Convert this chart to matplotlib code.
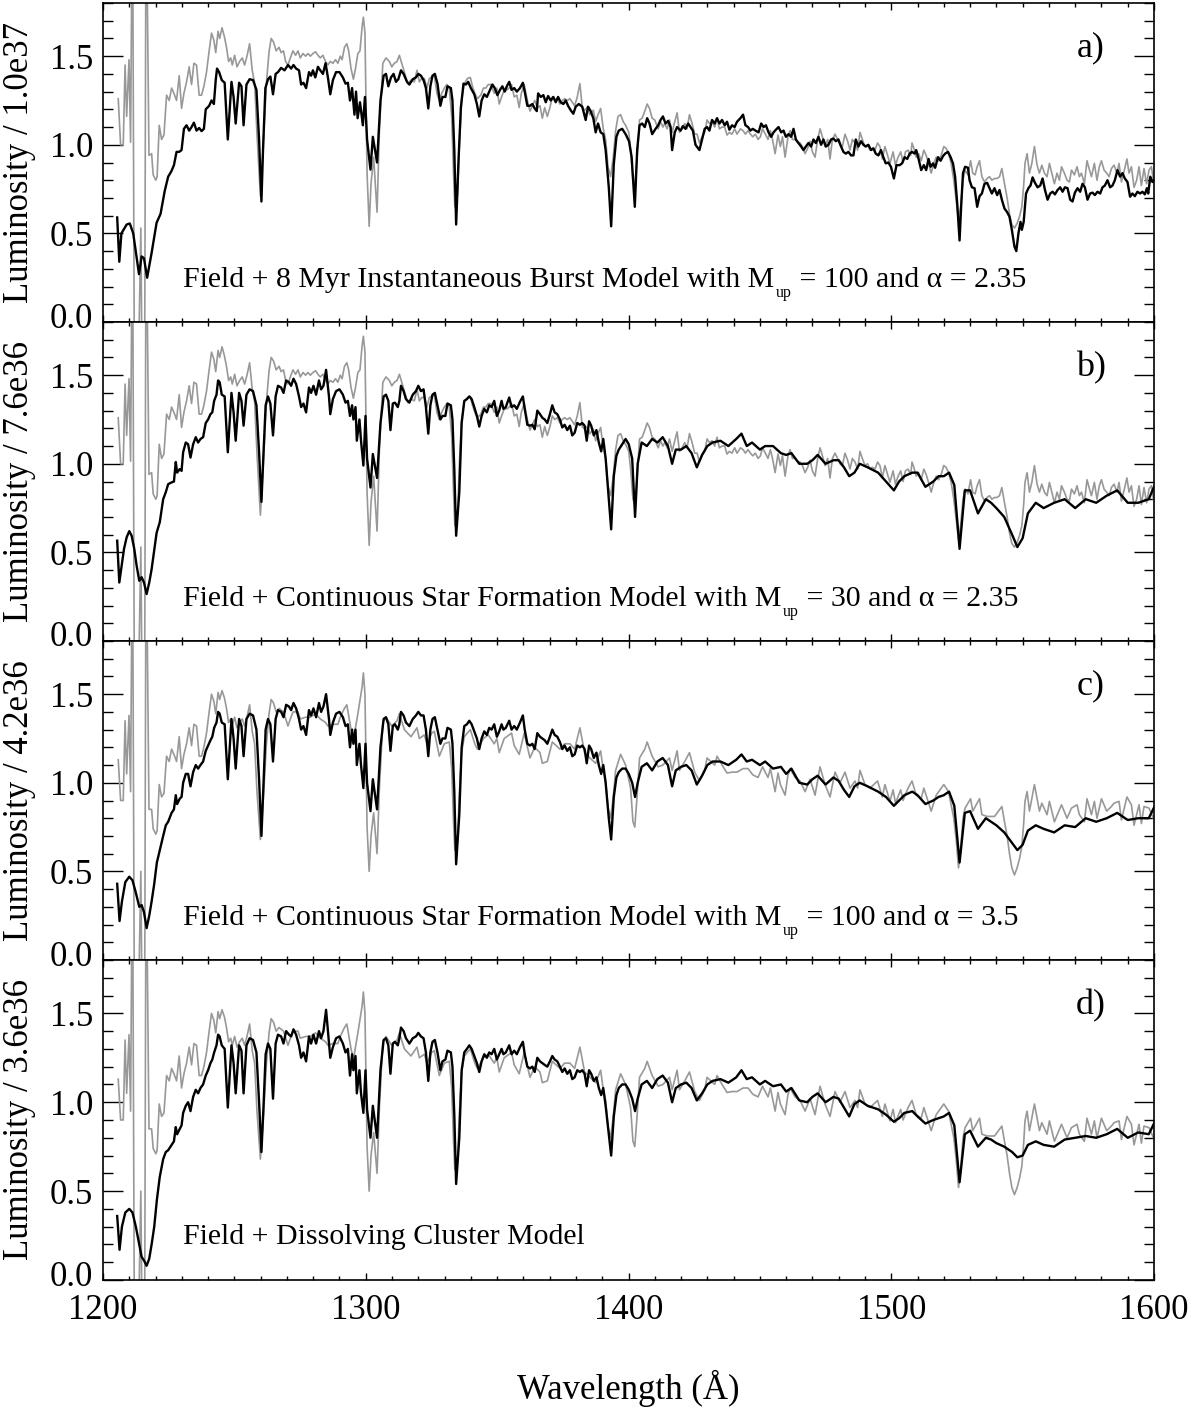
import matplotlib
matplotlib.use("Agg")
import matplotlib.pyplot as plt
from matplotlib.ticker import MultipleLocator
from matplotlib.transforms import ScaledTranslation

plt.rcParams['font.family'] = ['Liberation Serif', 'DejaVu Serif']

# ---------------- data ----------------
# Panel a, black
WL_A_BLK = [1205.4,1206.2,1207.0,1209.0,1210.2,1211.5,1213.7,1214.7,1215.6,1216.8,1218.5,1220.4,1221.9,1223.5,1224.8,1226.0,1227.0,1228.0,1229.0,1229.9,
 1230.8,1231.8,1232.8,1233.7,1234.6,1235.6,1236.6,1237.5,1238.4,1239.1,1240.4,1241.3,1242.2,1242.9,1243.4,1244.2,1245.2,1246.3,1247.5,1248.9,
 1249.7,1250.5,1251.8,1252.7,1253.5,1254.6,1255.8,1257.1,1258.4,1259.4,1260.3,1260.9,1261.8,1262.8,1263.7,1264.7,1265.7,1266.6,1267.8,1269.1,
 1270.4,1271.6,1272.5,1273.5,1274.6,1275.4,1276.3,1277.3,1278.4,1279.2,1279.9,1280.8,1281.8,1282.7,1283.7,1284.7,1285.6,1286.5,1287.5,1288.7,
 1290.0,1291.3,1292.3,1293.2,1294.0,1294.8,1295.7,1296.3,1296.9,1297.8,1298.9,1299.7,1300.5,1301.8,1302.7,1304.3,1305.6,1306.8,1307.7,1308.6,
 1309.6,1310.6,1311.5,1312.4,1313.4,1314.4,1315.7,1316.6,1317.9,1319.1,1320.0,1321.0,1322.0,1322.9,1323.8,1324.6,1325.4,1326.3,1327.3,1328.4,
 1329.2,1330.3,1331.1,1332.4,1333.0,1333.7,1334.4,1335.3,1336.2,1337.2,1338.1,1339.0,1340.0,1341.3,1342.3,1343.2,1344.1,1345.1,1346.1,1347.3,
 1348.2,1349.1,1350.1,1351.1,1352.0,1352.9,1353.7,1354.6,1355.5,1356.5,1357.5,1358.7,1359.8,1360.5,1361.5,1362.5,1363.4,1364.3,1365.1,1365.6,
 1366.6,1367.6,1368.5,1369.4,1370.4,1371.4,1372.3,1373.2,1374.2,1375.2,1376.1,1377.0,1378.0,1379.0,1379.9,1381.1,1382.4,1383.7,1384.6,1385.6,
 1386.6,1387.5,1388.4,1389.4,1390.4,1391.3,1392.5,1393.4,1394.4,1395.4,1396.3,1397.6,1398.9,1400.2,1401.2,1402.4,1403.3,1404.2,1405.2,1406.2,
 1407.1,1408.0,1409.0,1410.3,1411.3,1412.2,1413.1,1414.1,1415.1,1416.0,1416.6,1417.6,1418.5,1419.8,1420.7,1421.7,1422.7,1423.6,1424.5,1425.5,
 1427.0,1428.0,1429.0,1429.9,1430.8,1431.8,1432.8,1433.7,1434.6,1435.6,1436.6,1437.5,1438.4,1439.4,1440.4,1441.3,1442.6,1443.6,1444.5,1445.5,
 1446.4,1447.3,1448.3,1449.5,1450.5,1451.4,1452.3,1453.3,1454.3,1455.2,1456.1,1457.1,1458.1,1459.0,1459.9,1460.9,1461.9,1462.8,1463.7,1464.7,
 1465.7,1466.6,1467.5,1468.5,1469.5,1470.4,1471.3,1472.3,1473.3,1474.2,1475.1,1476.1,1477.1,1478.0,1478.9,1479.9,1480.9,1481.8,1482.7,1483.7,
 1484.7,1485.6,1486.5,1487.5,1488.5,1489.4,1490.3,1491.3,1492.3,1493.2,1494.1,1495.1,1496.1,1497.0,1497.9,1498.9,1499.9,1501.0,1502.0,1503.2,
 1504.1,1505.1,1506.1,1507.0,1507.9,1508.9,1509.5,1510.4,1511.4,1512.4,1513.3,1514.2,1515.0,1515.9,1516.7,1517.8,1518.8,1519.7,1520.5,1521.6,
 1522.6,1523.5,1524.3,1525.1,1526.0,1526.6,1527.3,1528.1,1529.2,1529.8,1530.7,1531.7,1532.7,1533.6,1534.5,1535.5,1536.5,1537.4,1538.3,1539.3,
 1540.3,1541.2,1542.1,1543.1,1544.1,1545.0,1545.9,1546.9,1547.6,1548.4,1549.2,1549.7,1550.4,1551.3,1552.2,1553.0,1553.8,1554.7,1555.7,1556.7,
 1557.6,1558.5,1559.5,1560.5,1561.4,1562.3,1563.3,1564.3,1565.2,1566.1,1567.1,1568.1,1569.0,1569.9,1570.9,1571.9,1572.8,1573.7,1574.7,1575.7,
 1576.6,1577.5,1578.5,1579.5,1580.4,1581.3,1582.3,1583.3,1584.2,1585.1,1586.1,1587.1,1588.0,1588.9,1589.9,1590.9,1591.8,1592.7,1593.7,1594.7,
 1595.6,1596.5,1597.3,1597.8,1598.6,1599.4,1600.0]
LUM_A_BLK = [.59,.34,.50,.55,.556,.50,.27,.37,.36,.25,.39,.56,.61,.74,.82,.85,.885,.96,.96,.97,
 1.09,1.11,1.08,1.10,1.125,1.08,1.095,1.077,1.09,1.20,1.22,1.25,1.23,1.365,1.43,1.41,1.365,1.35,1.03,1.355,
 1.27,1.12,1.35,1.33,1.11,1.34,1.37,1.365,1.31,1.03,.68,.97,1.32,1.37,1.385,1.285,1.40,1.41,1.434,1.42,
 1.45,1.43,1.45,1.43,1.42,1.34,1.35,1.32,1.41,1.39,1.42,1.38,1.44,1.42,1.40,1.46,1.38,1.285,1.365,1.41,
 1.41,1.38,1.345,1.35,1.25,1.32,1.17,1.30,1.15,1.24,1.11,1.27,1.03,.86,1.045,.90,1.25,1.39,1.40,1.33,
 1.38,1.40,1.355,1.37,1.42,1.40,1.355,1.34,1.37,1.38,1.40,1.39,1.365,1.32,1.205,1.33,1.39,1.40,1.345,1.22,
 1.27,1.27,1.33,1.32,1.25,.97,.55,.91,1.21,1.345,1.34,1.355,1.32,1.285,1.23,1.16,1.25,1.285,1.27,1.31,
 1.34,1.32,1.28,1.31,1.33,1.30,1.33,1.355,1.31,1.32,1.30,1.32,1.35,1.30,1.22,1.22,1.23,1.205,1.19,1.29,
 1.27,1.28,1.24,1.275,1.25,1.27,1.24,1.27,1.24,1.23,1.25,1.22,1.195,1.175,1.215,1.23,1.215,1.14,1.215,1.19,
 1.15,1.07,1.12,1.07,1.06,.97,.76,.54,.89,1.045,1.08,1.09,1.06,1.02,.93,.65,.97,1.11,1.12,1.10,
 1.15,1.12,1.06,1.09,1.11,1.14,1.16,1.12,1.135,1.10,.97,1.07,1.10,1.08,1.105,1.09,1.12,1.10,1.08,1.00,
 .97,1.03,1.09,1.10,1.08,1.14,1.12,1.15,1.12,1.14,1.11,1.13,1.085,1.11,1.10,1.13,1.15,1.17,1.11,1.10,
 1.08,1.09,1.08,1.07,1.12,1.10,1.11,1.07,1.045,1.07,1.085,1.10,1.07,1.08,1.045,1.06,1.045,1.09,1.03,1.01,
 .99,.97,.99,1.01,.99,1.03,1.01,1.045,1.00,1.03,.99,1.00,1.03,1.035,1.02,1.03,.99,.96,.95,.96,
 .94,.94,1.03,.99,1.02,1.00,.99,1.00,.97,.98,.95,.94,.97,.93,.895,.90,.875,.81,.885,.885,
 .895,.93,.92,.95,.96,.95,.97,.92,.857,.885,.857,.92,.876,.895,.87,.93,.91,.936,.95,.96,
 .93,.895,.82,.67,.46,.65,.84,.876,.87,.80,.76,.755,.65,.71,.725,.78,.785,.755,.725,.755,
 .716,.745,.69,.64,.62,.594,.52,.425,.40,.50,.565,.52,.565,.725,.755,.77,.816,.785,.76,.77,
 .81,.745,.69,.725,.735,.72,.745,.76,.735,.76,.755,.69,.68,.73,.755,.735,.78,.76,.69,.725,
 .73,.716,.735,.725,.76,.77,.80,.76,.77,.80,.857,.82,.84,.81,.79,.707,.725,.71,.735,.725,
 .735,.72,.755,.725,.82,.79,.80]

# Panel a, grey
WL_A_GRY = [1205.8,1206.7,1207.7,1208.4,1209.0,1209.9,1210.5,1211.2,1212.0,1213.2,1214.4,1215.0,1215.8,1216.4,1217.5,1218.5,1219.1,1220.1,1220.6,1221.4,
 1222.3,1223.2,1224.2,1225.2,1226.1,1227.0,1228.0,1229.0,1229.9,1230.8,1231.8,1232.8,1233.7,1234.6,1235.6,1236.6,1237.5,1238.4,1239.4,1240.4,
 1241.3,1242.2,1242.9,1243.8,1244.4,1245.3,1246.2,1247.0,1247.8,1248.6,1249.2,1250.1,1251.0,1252.0,1253.0,1253.9,1254.8,1255.8,1256.8,1257.7,
 1258.6,1259.9,1260.9,1262.2,1263.2,1264.0,1264.9,1265.9,1267.0,1267.8,1268.7,1269.5,1270.4,1271.3,1272.3,1273.3,1274.2,1275.1,1276.1,1277.1,
 1278.0,1278.9,1279.9,1280.9,1281.8,1282.7,1283.7,1284.7,1285.6,1286.5,1287.5,1288.5,1289.4,1290.3,1291.0,1291.9,1292.8,1293.5,1294.4,1295.3,
 1296.1,1297.0,1297.8,1298.6,1299.1,1299.7,1300.5,1301.3,1302.0,1303.0,1304.3,1305.2,1306.5,1307.7,1309.0,1309.9,1310.9,1311.9,1312.8,1313.7,
 1314.7,1316.0,1317.2,1318.5,1319.5,1320.4,1321.3,1322.3,1323.3,1324.2,1325.1,1326.1,1327.1,1328.0,1328.9,1329.9,1330.9,1331.8,1332.7,1333.4,
 1333.9,1335.0,1335.6,1336.5,1337.5,1338.7,1339.8,1340.6,1341.5,1342.5,1343.8,1344.8,1345.7,1346.6,1347.6,1348.9,1349.9,1350.8,1351.7,1352.7,
 1353.7,1354.6,1355.5,1356.5,1357.5,1358.4,1359.2,1360.3,1361.5,1362.5,1363.4,1364.3,1365.3,1366.3,1367.2,1368.1,1369.1,1370.1,1371.0,1371.9,
 1372.9,1373.9,1374.8,1375.7,1376.7,1377.7,1378.6,1379.5,1380.5,1381.5,1382.4,1383.3,1384.3,1385.3,1386.6,1387.5,1388.4,1389.4,1390.4,1391.3,
 1392.2,1393.2,1394.2,1395.1,1396.0,1397.0,1398.0,1398.9,1400.1,1400.8,1401.7,1402.4,1403.3,1404.2,1405.2,1406.2,1407.1,1408.0,1409.0,1410.0,
 1411.3,1412.2,1413.1,1413.8,1414.7,1415.6,1416.6,1417.6,1418.5,1419.4,1420.4,1421.4,1422.3,1423.2,1424.2,1425.2,1426.1,1427.0,1428.0,1429.0,
 1429.9,1430.8,1431.8,1432.8,1433.7,1434.6,1435.6,1436.6,1437.5,1438.4,1439.4,1440.4,1441.3,1442.6,1443.6,1444.5,1445.5,1446.4,1447.3,1448.3,
 1449.3,1450.2,1451.0,1452.1,1453.1,1454.0,1454.8,1455.8,1456.9,1457.8,1458.6,1459.6,1460.7,1461.5,1462.4,1463.4,1464.5,1465.3,1466.2,1467.2,
 1468.2,1469.1,1470.0,1471.0,1472.0,1472.9,1473.8,1474.8,1475.8,1476.7,1477.6,1478.6,1479.6,1480.5,1481.4,1482.4,1483.4,1484.3,1485.2,1486.2,
 1487.2,1488.1,1489.0,1490.0,1491.0,1491.9,1492.8,1493.8,1494.8,1495.7,1496.6,1497.6,1498.6,1499.5,1500.7,1501.6,1502.6,1503.6,1504.5,1505.4,
 1506.4,1507.4,1507.9,1508.6,1509.5,1510.4,1511.4,1512.4,1513.3,1514.2,1515.2,1516.2,1517.1,1518.0,1519.0,1520.0,1520.9,1521.8,1522.8,1523.8,
 1524.7,1525.6,1526.4,1527.3,1528.1,1529.2,1530.2,1531.0,1531.9,1532.7,1533.6,1534.5,1535.5,1536.5,1537.4,1538.3,1539.3,1540.3,1541.2,1542.1,
 1543.1,1544.1,1545.0,1545.9,1546.9,1547.9,1548.8,1549.7,1550.4,1550.9,1551.7,1552.6,1553.5,1554.5,1555.5,1556.4,1557.3,1558.3,1559.3,1560.2,
 1561.1,1562.1,1563.1,1564.0,1564.8,1565.9,1566.9,1567.8,1568.6,1569.7,1570.7,1571.6,1572.4,1573.5,1574.5,1575.3,1576.2,1577.3,1578.3,1579.2,
 1580.0,1581.0,1582.0,1582.9,1583.8,1584.8,1585.9,1586.7,1587.6,1588.6,1589.7,1590.5,1591.4,1592.4,1593.4,1594.3,1595.2,1596.2,1597.2,1598.1,
 1599.0,1599.8]
LUM_A_GRY = [1.26,1.00,1.00,1.45,1.16,1.48,1.015,2.5,-0.5,-0.5,0.53,-0.5,-0.5,2.5,.94,.95,.83,.80,.82,1.11,
 1.03,1.055,1.28,1.25,1.32,1.29,1.25,1.39,1.205,1.29,1.355,1.44,1.34,1.46,1.45,1.28,1.28,1.33,1.41,1.53,
 1.63,1.59,1.52,1.64,1.60,1.66,1.61,1.55,1.47,1.49,1.45,1.505,1.44,1.47,1.49,1.45,1.50,1.57,1.42,1.35,
 1.06,.71,.97,1.35,1.525,1.60,1.58,1.53,1.55,1.52,1.53,1.47,1.45,1.49,1.53,1.505,1.53,1.49,1.515,1.50,
 1.515,1.50,1.515,1.525,1.505,1.49,1.505,1.47,1.45,1.47,1.46,1.48,1.46,1.50,1.48,1.55,1.57,1.53,1.43,1.37,
 1.43,1.515,1.53,1.665,1.72,1.63,.84,.54,.78,.93,.62,1.08,1.46,1.49,1.47,1.44,1.46,1.47,1.505,1.46,
 1.41,1.345,1.365,1.355,1.42,1.355,1.374,1.374,1.32,1.374,1.383,1.39,1.29,1.25,1.29,1.32,1.34,1.32,1.16,.84,
 .65,.725,.99,1.25,1.345,1.374,1.38,1.33,1.29,1.26,1.28,1.32,1.32,1.34,1.34,1.29,1.32,1.23,1.27,1.31,
 1.31,1.32,1.34,1.27,1.28,1.21,1.29,1.34,1.25,1.19,1.22,1.25,1.21,1.22,1.15,1.21,1.16,1.21,1.27,1.25,
 1.26,1.23,1.25,1.26,1.25,1.26,1.24,1.22,1.27,1.345,1.21,1.195,1.21,1.17,1.195,1.13,1.17,1.205,1.09,1.03,
 .876,.82,.93,1.08,1.16,1.17,1.13,1.11,1.07,.97,.80,.77,.93,1.14,1.15,1.19,1.23,1.205,1.15,1.14,
 1.09,1.13,1.10,1.12,1.09,1.14,1.07,1.13,1.18,1.07,1.09,1.12,1.09,1.17,1.12,1.06,1.06,1.01,1.045,1.07,
 1.14,1.12,1.13,1.10,1.15,1.09,1.10,1.10,1.055,1.07,1.06,1.09,1.06,1.09,1.08,1.06,1.08,1.06,1.045,1.06,
 1.03,1.045,1.09,1.06,1.03,1.08,1.03,.95,1.055,.99,1.045,.93,1.045,1.08,1.03,1.03,1.01,1.01,.99,.95,
 .98,1.02,.96,.93,1.03,1.09,1.045,.99,1.03,.92,1.03,1.06,1.03,1.00,.99,1.06,1.02,.97,1.03,1.01,
 .97,1.07,1.03,.99,1.00,.97,.98,.97,1.01,.99,.92,.99,.94,.895,.96,.885,.93,.96,.90,.96,
 .97,.94,1.01,.98,.93,.95,.91,.97,.94,.895,.84,.895,.93,.91,.94,.99,.98,.95,.895,.80,
 .69,.575,.65,.80,.857,.83,.91,.84,.83,.876,.91,.82,.79,.81,.82,.80,.81,.81,.82,.866,
 .78,.70,.61,.55,.53,.556,.594,.65,.77,.895,.95,.84,.895,.99,.885,.84,.885,.84,.82,.895,
 .84,.78,.84,.80,.876,.84,.80,.79,.857,.83,.876,.82,.84,.78,.91,.866,.82,.895,.80,.876,
 .91,.857,.84,.82,.866,.885,.84,.895,.79,.85,.92,.84,.876,.76,.80,.876,.77,.866,.78,.857,
 .876,.80]

# Panel b, black
WL_B_BLK = [1205.4,1206.2,1207.1,1208.0,1209.0,1210.0,1210.9,1211.9,1212.8,1213.8,1214.7,1215.6,1216.6,1217.6,1218.5,1219.4,1220.4,1221.6,1222.9,1223.9,
 1224.8,1226.1,1227.0,1227.7,1228.2,1229.2,1229.9,1230.5,1231.5,1232.4,1233.3,1234.3,1235.3,1236.2,1237.1,1238.1,1239.1,1240.0,1240.9,1241.6,
 1242.3,1243.2,1243.8,1244.4,1245.2,1246.3,1247.5,1248.9,1249.7,1250.5,1251.8,1252.7,1253.5,1254.6,1255.8,1257.1,1258.4,1259.4,1260.3,1261.1,
 1261.9,1262.8,1263.7,1264.7,1265.7,1266.6,1267.8,1268.7,1269.7,1270.8,1271.6,1272.5,1273.5,1274.6,1275.4,1276.3,1277.3,1278.4,1279.2,1280.1,
 1281.1,1282.2,1283.0,1283.9,1284.9,1286.0,1286.5,1287.5,1288.7,1290.0,1291.3,1292.3,1293.2,1294.0,1294.8,1295.3,1296.1,1296.6,1297.6,1298.2,
 1299.1,1299.9,1300.5,1301.8,1302.7,1304.3,1305.6,1306.8,1307.7,1308.6,1309.4,1310.3,1311.1,1312.2,1312.8,1313.4,1314.4,1315.3,1316.6,1317.9,
 1319.1,1320.0,1321.0,1322.0,1322.9,1323.8,1324.6,1325.4,1326.3,1327.3,1328.4,1329.2,1330.3,1331.1,1332.4,1333.0,1333.7,1334.4,1335.6,1336.5,
 1337.5,1338.5,1339.4,1340.3,1341.3,1342.3,1343.2,1344.1,1345.1,1346.1,1347.0,1347.9,1348.9,1349.9,1350.8,1351.7,1352.4,1353.3,1354.6,1355.5,
 1356.5,1357.5,1358.7,1359.8,1360.5,1361.5,1362.5,1363.4,1364.3,1365.3,1366.3,1367.2,1368.1,1369.1,1370.1,1371.0,1371.9,1372.9,1373.9,1374.8,
 1375.7,1376.7,1377.7,1378.6,1379.5,1380.5,1381.5,1382.4,1383.3,1384.1,1385.0,1385.8,1386.8,1387.8,1388.7,1389.6,1390.4,1391.3,1392.5,1393.4,
 1394.4,1395.4,1396.3,1397.6,1398.9,1400.1,1401.4,1402.5,1403.5,1405,1407,1409,1411,1413,1415,1416.6,1418,1420,1422,1424,
 1426,1428,1430,1432,1435,1438,1441,1443,1445,1447,1450,1452,1455,1458,1460,1462,1465,1468,1470,1472,
 1475,1478,1480,1482,1484,1486,1488,1491,1495,1498,1501,1503,1505,1508,1510,1513,1516,1518,1520,1522,
 1524,1526,1528,1530,1533,1536,1538,1540,1543,1546,1548,1550,1552,1555,1558,1562,1566,1570,1574,1578,
 1582,1586,1590,1594,1598,1600]
LUM_B_BLK = [.566,.33,.425,.52,.585,.62,.594,.52,.425,.34,.36,.33,.265,.33,.405,.50,.61,.67,.80,.84,
 .885,.895,.90,1.01,.95,.97,.96,1.065,1.12,1.11,1.035,1.11,1.15,1.12,1.14,1.15,1.23,1.25,1.28,1.29,
 1.355,1.39,1.47,1.46,1.39,1.38,1.065,1.40,1.29,1.13,1.40,1.355,1.215,1.39,1.42,1.41,1.33,1.065,.785,1.065,
 1.33,1.38,1.34,1.16,1.38,1.44,1.43,1.40,1.47,1.46,1.44,1.48,1.45,1.38,1.32,1.34,1.29,1.43,1.40,1.44,
 1.39,1.47,1.42,1.44,1.53,1.38,1.28,1.365,1.41,1.42,1.39,1.345,1.355,1.27,1.33,1.25,1.32,1.13,1.25,1.13,
 .99,1.27,1.03,.866,1.055,.92,1.23,1.38,1.39,1.355,1.19,1.34,1.345,1.32,1.355,1.44,1.41,1.365,1.345,1.39,
 1.41,1.44,1.41,1.42,1.32,1.17,1.33,1.39,1.40,1.33,1.25,1.27,1.27,1.34,1.33,1.25,.97,.594,.84,1.23,
 1.355,1.365,1.38,1.365,1.32,1.27,1.21,1.27,1.31,1.29,1.33,1.32,1.355,1.27,1.30,1.355,1.31,1.32,1.374,1.32,
 1.33,1.31,1.35,1.38,1.31,1.22,1.215,1.22,1.195,1.30,1.28,1.26,1.25,1.23,1.28,1.33,1.29,1.28,1.25,1.205,
 1.22,1.19,1.215,1.16,1.175,1.23,1.22,1.23,1.215,1.13,1.24,1.215,1.16,1.19,1.12,1.07,1.14,1.03,.80,.63,
 .93,1.045,1.08,1.11,1.14,1.11,1.03,.70,1.0,1.12,1.10,1.14,1.12,1.15,1.10,1.0,1.08,1.08,1.10,1.06,
 .98,1.05,1.10,1.12,1.13,1.10,1.14,1.17,1.10,1.12,1.08,1.10,1.10,1.06,1.05,1.06,1.00,1.00,1.02,1.05,
 1.00,1.02,1.02,.98,.93,.95,1.00,.98,.95,.90,.85,.90,.93,.95,.95,.87,.90,.93,.93,.95,
 .88,.52,.85,.85,.72,.80,.78,.75,.70,.60,.53,.58,.72,.78,.75,.78,.80,.75,.80,.78,
 .82,.85,.78,.78,.80,.87]

# Panel b, grey (coincides with the panel a grey trace in the picture)
WL_B_GRY = list(WL_A_GRY)
LUM_B_GRY = list(LUM_A_GRY)

# Panels c and d, black (shared wavelength samples)
WL_CD_BLK = [1205.4,1206.3,1207.2,1208.5,1210.0,1211.2,1212.5,1213.8,1214.7,1215.6,
 1216.6,1217.6,1218.5,1219.5,1220.5,1221.6,1222.9,1223.9,1224.8,1226.1,
 1227.0,1227.7,1228.2,1229.2,1229.9,1230.5,1231.5,1232.4,1233.3,1234.3,
 1235.3,1236.2,1237.1,1238.1,1239.1,1240.0,1240.9,1241.6,1242.3,1243.2,
 1243.8,1244.4,1245.2,1246.3,1247.5,1248.9,1249.7,1250.5,1251.8,1252.7,
 1253.5,1254.6,1255.8,1257.1,1258.4,1259.4,1260.3,1261.1,1261.9,1262.8,
 1263.7,1264.7,1265.7,1266.6,1267.8,1268.7,1269.7,1270.8,1271.6,1272.5,
 1273.5,1274.6,1275.4,1276.3,1277.3,1278.4,1279.2,1280.1,1281.1,1282.2,
 1283.0,1283.9,1284.9,1286.0,1286.5,1287.5,1288.7,1290.0,1291.3,1292.3,
 1293.2,1294.0,1294.8,1295.3,1296.1,1296.6,1297.6,1298.2,1299.1,1299.9,
 1300.5,1301.8,1302.7,1304.3,1305.6,1306.8,1307.7,1308.6,1309.4,1310.3,
 1311.1,1312.2,1312.8,1313.4,1314.4,1315.3,1316.6,1317.9,1319.1,1320.0,
 1321.0,1322.0,1322.9,1323.8,1324.6,1325.4,1326.3,1327.3,1328.4,1329.2,
 1330.3,1331.1,1332.4,1333.0,1333.7,1334.4,1335.6,1336.5,1337.5,1338.5,
 1339.4,1340.3,1341.3,1342.3,1343.2,1344.1,1345.1,1346.1,1347.0,1347.9,
 1348.9,1349.9,1350.8,1351.7,1352.4,1353.3,1354.6,1355.5,1356.5,1357.5,
 1358.7,1359.8,1360.5,1361.5,1362.5,1363.4,1364.3,1365.3,1366.3,1367.2,
 1368.1,1369.1,1370.1,1371.0,1371.9,1372.9,1373.9,1374.8,1375.7,1376.7,
 1377.7,1378.6,1379.5,1380.5,1381.5,1382.4,1383.3,1384.1,1385.0,1385.8,
 1386.8,1387.8,1388.7,1389.6,1390.4,1391.3,1392.5,1393.4,1394.4,1395.4,
 1396.3,1397.6,1398.9,1400.1,1401.4,1402.5,1403.5,1405,1407,1409,
 1411,1413,1415,1416.6,1418,1420,1422,1424,1426,1428,
 1430,1432,1435,1438,1441,1443,1445,1447,1450,1452,
 1455,1458,1460,1462,1465,1468,1470,1472,1475,1478,
 1480,1482,1484,1486,1488,1491,1495,1498,1501,1503,
 1505,1508,1510,1513,1516,1518,1520,1522,1524,1526,
 1528,1530,1533,1536,1538,1540,1543,1546,1548,1550,
 1552,1555,1558,1562,1566,1570,1574,1578,1582,1586,
 1590,1594,1598,1600]
LUM_C_BLK = [.43,.22,.33,.44,.47,.45,.38,.30,.31,.27,
 .18,.25,.33,.43,.55,.62,.70,.76,.78,.83,
 .85,.93,.88,.91,.92,1.00,1.05,1.05,.98,1.06,
 1.10,1.08,1.10,1.12,1.18,1.21,1.24,1.26,1.31,1.34,
 1.40,1.39,1.34,1.33,1.02,1.36,1.25,1.08,1.36,1.32,
 1.15,1.36,1.39,1.38,1.30,1.02,.70,1.00,1.30,1.36,
 1.33,1.12,1.36,1.41,1.40,1.37,1.44,1.43,1.41,1.45,
 1.42,1.36,1.30,1.32,1.27,1.41,1.38,1.42,1.37,1.45,
 1.40,1.43,1.50,1.36,1.27,1.34,1.39,1.40,1.37,1.32,
 1.33,1.20,1.30,1.22,1.30,1.10,1.22,1.10,.97,1.22,
 1.00,.84,1.02,.85,1.20,1.36,1.37,1.33,1.18,1.32,
 1.33,1.30,1.33,1.40,1.38,1.34,1.32,1.36,1.38,1.40,
 1.38,1.38,1.30,1.15,1.30,1.36,1.37,1.30,1.22,1.25,
 1.25,1.31,1.30,1.22,.95,.54,.82,1.20,1.32,1.33,
 1.35,1.33,1.29,1.25,1.19,1.25,1.29,1.27,1.31,1.30,
 1.33,1.26,1.29,1.33,1.30,1.31,1.35,1.30,1.32,1.30,
 1.34,1.38,1.30,1.22,1.21,1.22,1.19,1.28,1.26,1.25,
 1.24,1.22,1.26,1.30,1.27,1.26,1.23,1.19,1.21,1.18,
 1.20,1.15,1.16,1.21,1.20,1.21,1.19,1.11,1.21,1.19,
 1.14,1.17,1.10,1.05,1.10,1.00,.80,.68,.92,1.03,
 1.06,1.08,1.08,1.05,1.00,.92,1.00,1.09,1.11,1.07,
 1.12,1.14,1.10,.98,1.07,1.09,1.10,1.07,.99,1.04,
 1.10,1.12,1.12,1.10,1.13,1.16,1.12,1.13,1.10,1.12,
 1.08,1.09,1.05,1.08,1.00,.99,1.02,1.04,.99,1.03,
 1.01,.96,.92,.98,1.00,.98,.95,.92,.87,.90,
 .93,.95,.93,.88,.90,.92,.93,.95,.87,.55,
 .83,.84,.74,.80,.78,.76,.72,.66,.62,.65,
 .73,.76,.74,.72,.76,.75,.80,.78,.80,.83,
 .79,.80,.80,.86]
LUM_D_BLK = [.36,.17,.30,.38,.40,.38,.30,.20,.13,.11,
 .08,.12,.20,.30,.45,.58,.68,.72,.73,.76,
 .78,.86,.82,.85,.87,.94,.98,1.00,.95,1.03,
 1.07,1.05,1.08,1.10,1.15,1.18,1.22,1.24,1.28,1.32,
 1.38,1.37,1.32,1.30,.97,1.32,1.22,1.05,1.32,1.29,
 1.05,1.32,1.36,1.35,1.28,1.00,.72,.98,1.27,1.33,
 1.30,1.02,1.33,1.38,1.37,1.33,1.40,1.38,1.37,1.41,
 1.38,1.32,1.25,1.28,1.23,1.37,1.33,1.38,1.33,1.40,
 1.36,1.40,1.52,1.33,1.25,1.31,1.36,1.37,1.33,1.28,
 1.30,1.15,1.27,1.18,1.26,1.05,1.18,1.05,.94,1.18,
 .96,.80,.98,.80,1.18,1.35,1.36,1.32,1.16,1.33,
 1.34,1.32,1.36,1.42,1.40,1.36,1.33,1.36,1.37,1.39,
 1.37,1.36,1.28,1.12,1.28,1.34,1.35,1.28,1.18,1.23,
 1.24,1.29,1.28,1.20,.93,.54,.80,1.18,1.28,1.30,
 1.32,1.30,1.26,1.22,1.17,1.23,1.27,1.25,1.28,1.27,
 1.30,1.24,1.27,1.30,1.27,1.28,1.32,1.27,1.29,1.27,
 1.31,1.34,1.27,1.20,1.19,1.20,1.17,1.25,1.23,1.22,
 1.21,1.20,1.23,1.26,1.24,1.23,1.20,1.17,1.19,1.16,
 1.18,1.13,1.14,1.18,1.17,1.18,1.16,1.09,1.18,1.16,
 1.12,1.14,1.08,1.04,1.08,.98,.82,.70,.92,1.04,
 1.08,1.10,1.10,1.07,1.02,.95,1.02,1.10,1.12,1.08,
 1.13,1.15,1.11,1.00,1.08,1.10,1.11,1.08,1.01,1.05,
 1.10,1.12,1.13,1.11,1.14,1.18,1.13,1.14,1.10,1.12,
 1.09,1.10,1.06,1.08,1.01,1.00,1.03,1.05,1.00,1.03,
 1.02,.97,.92,.99,1.01,.98,.96,.93,.89,.91,
 .94,.95,.92,.88,.90,.91,.92,.94,.87,.55,
 .82,.84,.75,.80,.79,.77,.75,.72,.69,.70,
 .76,.78,.76,.75,.79,.80,.81,.80,.82,.85,
 .80,.83,.82,.88]

# Panel c, grey
WL_C_GRY = [1205.8,1206.7,1207.7,1208.4,1209.0,1209.9,1210.5,1211.2,1212.0,1213.2,
 1214.4,1215.0,1215.8,1216.4,1217.5,1218.5,1219.1,1220.1,1220.6,1221.4,
 1222.3,1223.2,1224.2,1225.2,1226.1,1227.0,1228.0,1229.0,1229.9,1230.8,
 1231.8,1232.8,1233.7,1234.6,1235.6,1236.6,1237.5,1238.4,1239.4,1240.4,
 1241.3,1242.2,1242.9,1243.8,1244.4,1245.3,1246.2,1247.0,1247.8,1248.6,
 1249.2,1250.1,1251.0,1252.0,1253.0,1253.9,1254.8,1255.8,1256.8,1257.7,
 1258.6,1259.9,1260.9,1262.2,1263.2,1264.0,1264.9,1265.9,1267.0,1268.7,
 1270.4,1271.3,1272.3,1274.2,1275.1,1277.1,1278.9,1280.9,1282.7,1284.7,
 1285.6,1287.5,1289.4,1290.3,1291.9,1292.8,1294.4,1295.3,1297.0,1298.6,
 1299.1,1299.7,1300.5,1301.3,1302.0,1303.0,1304.3,1305.2,1306.5,1307.7,
 1309.9,1311.9,1312.8,1314.7,1317.2,1319.5,1320.4,1322.3,1323.3,1325.1,
 1326.1,1328.0,1329.9,1331.8,1332.7,1333.4,1333.9,1335.0,1335.6,1336.5,
 1337.5,1339.8,1341.5,1342.5,1344.8,1346.6,1348.9,1349.9,1350.8,1352.7,
 1355.5,1356.5,1358.4,1360.3,1362.5,1364.3,1366.3,1367.2,1369.1,1371.0,
 1373.9,1375.7,1377.7,1379.5,1381.5,1383.3,1385.3,1387.5,1389.4,1390.4,
 1391.3,1392.2,1393.2,1394.2,1395.1,1397.0,1398.9,1400.8,1401.7,1402.4,
 1403.3,1404.2,1406.2,1407.1,1409.0,1411.3,1413.1,1415.6,1416.6,1418.5,
 1419.4,1421.4,1423.2,1425.2,1427.0,1429.0,1429.9,1432.8,1433.7,1435.6,
 1437.5,1439.4,1441.3,1443.6,1445.5,1447.3,1449.3,1451.0,1453.1,1454.0,
 1455.8,1456.9,1457.8,1459.6,1460.7,1461.5,1463.4,1465.3,1467.2,1469.1,
 1471.0,1472.9,1474.8,1476.7,1478.6,1480.5,1482.4,1484.3,1486.2,1487.2,
 1488.1,1490.0,1491.9,1494.8,1496.6,1497.6,1499.5,1500.7,1501.6,1503.6,
 1504.5,1506.4,1507.9,1509.5,1511.4,1512.4,1515.2,1517.1,1520.0,1521.8,
 1523.8,1524.7,1525.6,1526.4,1527.3,1528.1,1530.2,1531.0,1533.6,1534.5,
 1536.5,1539.3,1542.1,1543.1,1544.1,1545.0,1545.9,1546.9,1547.9,1548.8,
 1549.7,1550.4,1550.9,1551.7,1552.6,1554.5,1556.4,1557.3,1559.3,1560.2,
 1562.1,1564.8,1566.9,1568.6,1570.7,1571.6,1573.5,1574.5,1576.2,1577.3,
 1578.3,1580.0,1582.0,1583.8,1584.8,1586.7,1587.6,1589.7,1591.4,1592.4,
 1594.3,1595.2,1596.2,1598.1,1599.8]
LUM_C_GRY = [1.13,.90,.90,1.35,1.05,1.38,.95,2.5,-0.5,-0.5,
 .50,-0.5,-0.5,2.5,.85,.85,.74,.71,.73,.99,
 .92,.94,1.15,1.12,1.19,1.16,1.12,1.26,1.08,1.16,
 1.22,1.31,1.21,1.33,1.32,1.15,1.15,1.20,1.28,1.40,
 1.50,1.46,1.39,1.51,1.47,1.52,1.48,1.42,1.34,1.36,
 1.32,1.37,1.31,1.34,1.36,1.32,1.37,1.44,1.29,1.22,
 .95,.68,.88,1.22,1.39,1.47,1.45,1.40,1.42,1.40,
 1.32,1.36,1.40,1.40,1.36,1.37,1.37,1.39,1.36,1.34,
 1.32,1.33,1.33,1.37,1.42,1.44,1.30,1.24,1.39,1.54,
 1.62,1.50,.75,.50,.70,.83,.60,.97,1.34,1.37,
 1.32,1.35,1.39,1.30,1.26,1.31,1.25,1.27,1.22,1.28,
 1.29,1.15,1.22,1.23,1.08,.78,.62,.70,.93,1.17,
 1.26,1.30,1.22,1.19,1.25,1.27,1.22,1.25,1.17,1.25,
 1.28,1.21,1.16,1.28,1.14,1.20,1.17,1.11,1.12,1.23,
 1.19,1.22,1.22,1.19,1.31,1.17,1.14,1.11,1.18,1.07,
 1.01,.86,.80,.92,1.07,1.16,1.10,.97,.78,.75,
 .93,1.14,1.19,1.23,1.15,1.09,1.10,1.14,1.07,1.18,
 1.07,1.12,1.17,1.06,1.01,1.07,1.14,1.10,1.15,1.10,
 1.055,1.06,1.06,1.08,1.08,1.045,1.03,1.09,1.03,1.08,
 .95,1.055,.99,.93,1.045,1.08,1.03,1.01,.95,1.02,
 .93,1.09,.99,.92,1.06,1.00,1.06,.97,1.01,.97,
 1.07,.99,.97,1.01,.92,.99,.895,.96,.885,.96,
 .90,.97,1.01,.93,.91,.97,.84,.93,.99,.95,
 .80,.68,.52,.62,.80,.857,.91,.84,.91,.82,
 .81,.81,.866,.78,.70,.60,.52,.48,.52,.57,
 .64,.77,.895,.95,.84,.99,.84,.885,.82,.895,
 .78,.876,.80,.857,.876,.82,.78,.91,.82,.895,
 .80,.91,.84,.866,.885,.895,.79,.92,.876,.76,
 .876,.77,.866,.857,.80]

# Panel d, grey (coincides with the panel c grey trace in the picture)
WL_D_GRY = list(WL_C_GRY)
LUM_D_GRY = list(LUM_C_GRY)

NORMS = ["1.0e37", "7.6e36", "4.2e36", "3.6e36"]
LETTERS = ["a)", "b)", "c)", "d)"]
# caption pieces: text before the subscript, subscript, text after it
CAPTIONS = [
    ("Field + 8 Myr Instantaneous Burst Model with M", "up", " = 100 and \u03b1 = 2.35"),
    ("Field + Continuous Star Formation Model with M", "up", " = 30 and \u03b1 = 2.35"),
    ("Field + Continuous Star Formation Model with M", "up", " = 100 and \u03b1 = 3.5"),
    ("Field + Dissolving Cluster Model", None, None),
]
XTICKS = [1200, 1300, 1400, 1500, 1600]
YTICKS = [0.0, 0.5, 1.0, 1.5]

SERIES = [
    (WL_A_GRY, LUM_A_GRY, WL_A_BLK, LUM_A_BLK),
    (WL_B_GRY, LUM_B_GRY, WL_B_BLK, LUM_B_BLK),
    (WL_C_GRY, LUM_C_GRY, WL_CD_BLK, LUM_C_BLK),
    (WL_D_GRY, LUM_D_GRY, WL_CD_BLK, LUM_D_BLK),
]

# ---------------- figure ----------------
W, H = 1201, 1409
fig = plt.figure(figsize=(W / 100, H / 100), dpi=100)
renderer = fig.canvas.get_renderer()
left_px, right_px = 103, 1154
tops = [3, 322, 641, 960]
bots = [322, 641, 960, 1280]
FS = 25      # tick labels / axis titles
CFS = 21.5   # caption
SFS = 11.5   # subscript


def px(dx, dy):
    return ScaledTranslation(dx / 100, dy / 100, fig.dpi_scale_trans)


for i in range(4):
    ax = fig.add_axes([left_px / W, 1 - bots[i] / H, (right_px - left_px) / W, (bots[i] - tops[i]) / H])
    wg, lg, wb, lb = SERIES[i]
    ng, nb = min(len(wg), len(lg)), min(len(wb), len(lb))
    ax.plot(wg[:ng], lg[:ng], color='#989898', lw=1.2, zorder=2)
    ax.plot(wb[:nb], lb[:nb], color='black', lw=1.7, zorder=3)
    ax.set_xlim(1200, 1600)
    ax.set_ylim(0, 1.8)
    ax.set_yticks(YTICKS)
    ax.set_yticklabels([f"{v:.1f}" for v in YTICKS], fontsize=FS)
    ax.yaxis.set_minor_locator(MultipleLocator(0.1))
    ax.set_xticks(XTICKS)
    ax.xaxis.set_minor_locator(MultipleLocator(10))
    ax.tick_params(axis='both', which='both', direction='in', top=True, right=True, width=1.0, color='black')
    ax.tick_params(axis='y', which='major', length=14.5, pad=7)
    ax.tick_params(axis='y', which='minor', length=7.2)
    ax.tick_params(axis='x', which='major', length=5.2, pad=10)
    ax.tick_params(axis='x', which='minor', length=2.8)
    if i < 3:
        ax.tick_params(axis='x', labelbottom=False)
    else:
        ax.set_xticklabels([str(v) for v in XTICKS], fontsize=FS)
    for sp in ax.spines.values():
        sp.set_linewidth(1.2)
    lab0 = ax.get_yticklabels()[0]
    lab0.set_transform(lab0.get_transform() + px(0, 7))
    ax.set_ylabel("Luminosity / " + NORMS[i], fontsize=FS)
    ax.yaxis.set_label_coords((36 - left_px) / (right_px - left_px), 0.5)
    ax.text(0.940, 0.858, LETTERS[i], transform=ax.transAxes, fontsize=FS + 1, ha='center', va='center')

    pre, sub, post = CAPTIONS[i]
    y0 = 0.111
    t1 = ax.text(0.076, y0, pre, transform=ax.transAxes, fontsize=CFS, ha='left', va='baseline')
    if sub is not None:
        bb1 = t1.get_window_extent(renderer)
        x1 = ax.transAxes.inverted().transform((bb1.x1, bb1.y0))[0]
        t2 = ax.text(x1, y0, sub, transform=ax.transAxes + px(2, -10), fontsize=SFS, ha='left', va='baseline')
        bb2 = t2.get_window_extent(renderer)
        x2 = ax.transAxes.inverted().transform((bb2.x1, bb2.y0))[0]
        ax.text(x2, y0, post, transform=ax.transAxes, fontsize=CFS, ha='left', va='baseline')

fig.text((left_px + right_px) / 2 / W, 1 - 1388 / H, "Wavelength (\u00c5)", fontsize=FS, ha='center', va='center')

fig.savefig("out.png", dpi=100)
